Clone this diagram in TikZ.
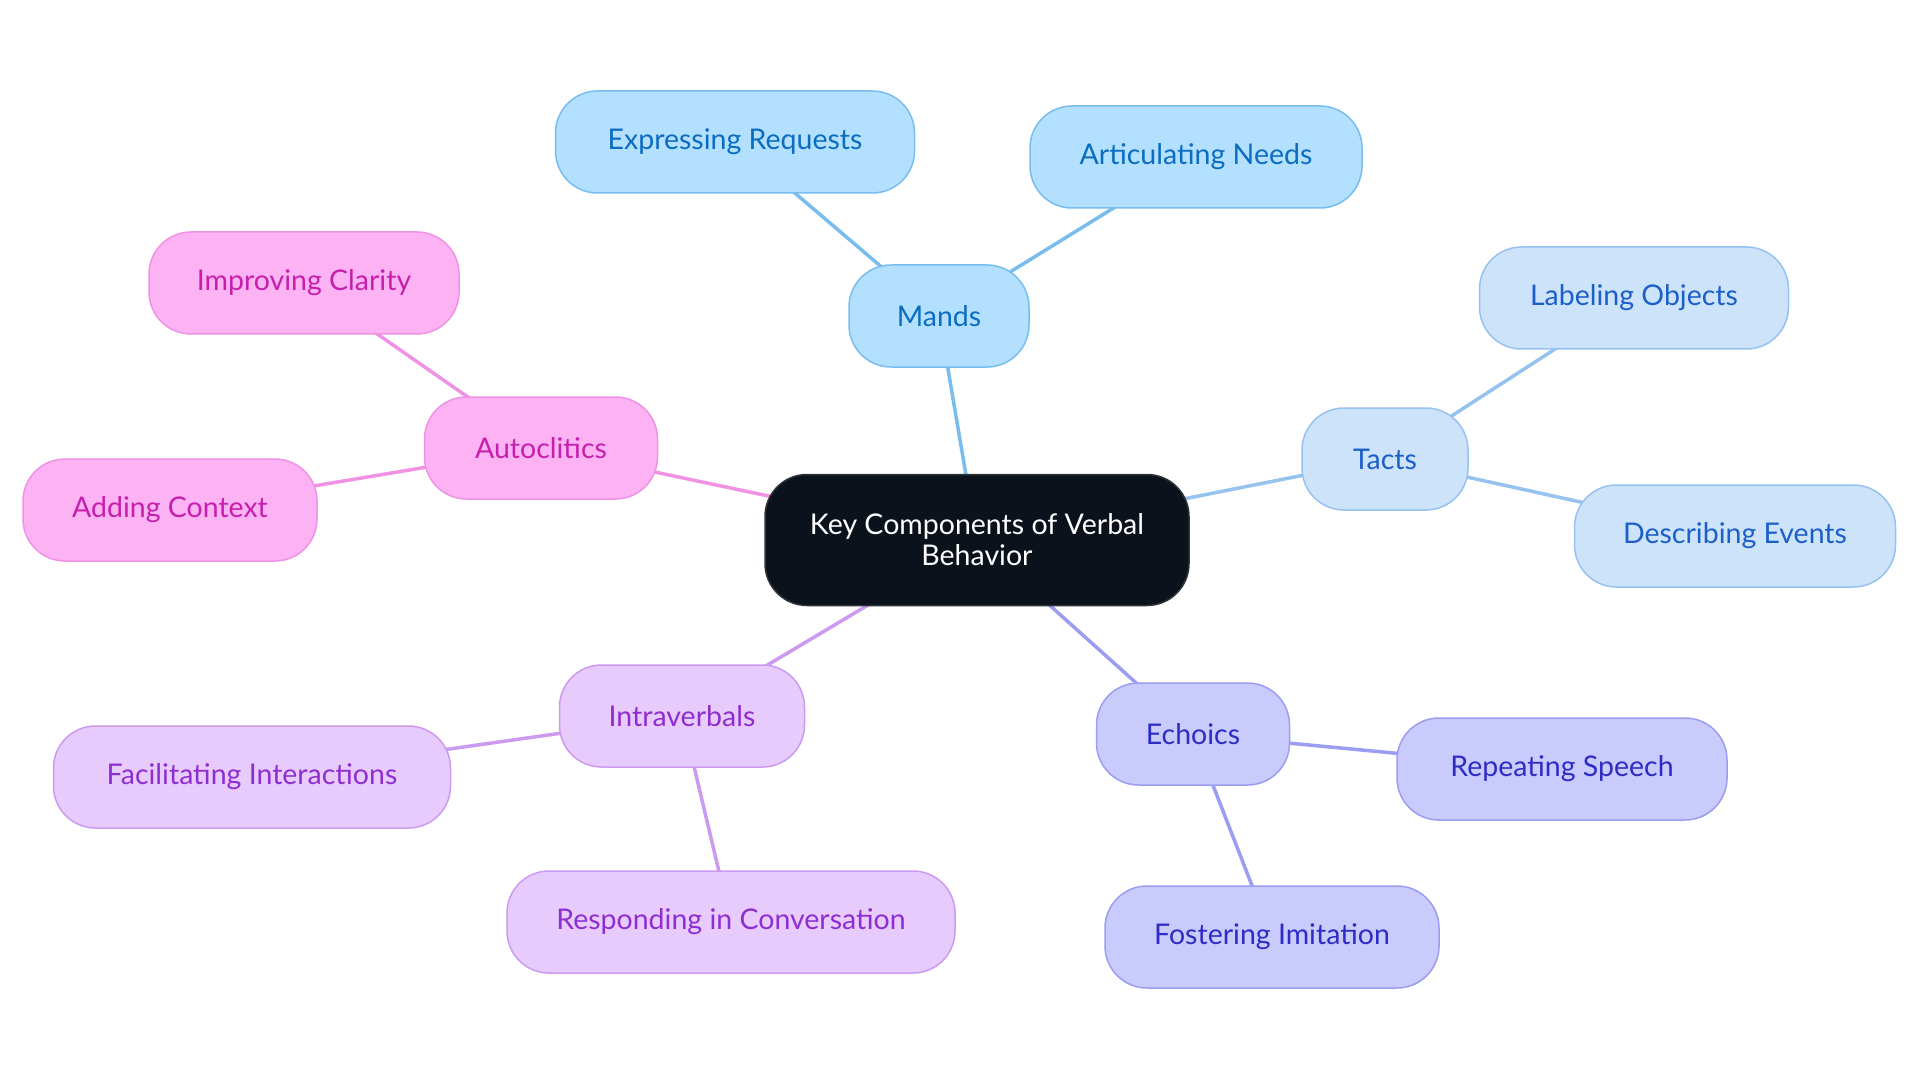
\documentclass[tikz,border=0pt]{standalone}
\usepackage{fontspec}
\setmainfont{Lato}
\usepackage{tikz}
\usetikzlibrary{backgrounds}

\definecolor{rootfill}{HTML}{0C121B}
\definecolor{rootdraw}{HTML}{2F343B}
\definecolor{mandfill}{HTML}{B3E0FF}
\definecolor{manddraw}{HTML}{78BDEE}
\definecolor{mandtext}{HTML}{0B6CC0}
\definecolor{tactfill}{HTML}{CCE3FA}
\definecolor{tactdraw}{HTML}{96C2F0}
\definecolor{tacttext}{HTML}{1D5FC9}
\definecolor{echofill}{HTML}{C9CBFC}
\definecolor{echodraw}{HTML}{9A9DF1}
\definecolor{echotext}{HTML}{2D2DC6}
\definecolor{intrfill}{HTML}{E8CBFD}
\definecolor{intrdraw}{HTML}{CC9AF0}
\definecolor{intrtext}{HTML}{8F2ED0}
\definecolor{autofill}{HTML}{FDB3F3}
\definecolor{autodraw}{HTML}{F092E3}
\definecolor{autotext}{HTML}{C61FAE}

\begin{document}
\begin{tikzpicture}[x=1pt,y=-1pt]
  \tikzstyle{bubble}=[rectangle,rounded corners=42pt,line width=1.5pt,minimum height=102pt,
                      inner sep=0pt,font=\fontsize{28.5}{31}\selectfont,align=center]
  \tikzstyle{rootbox}=[bubble,fill=rootfill,draw=rootdraw,text=white,minimum height=131pt]
  \tikzstyle{mand}=[bubble,fill=mandfill,draw=manddraw,text=mandtext]
  \tikzstyle{tact}=[bubble,fill=tactfill,draw=tactdraw,text=tacttext]
  \tikzstyle{echo}=[bubble,fill=echofill,draw=echodraw,text=echotext]
  \tikzstyle{intr}=[bubble,fill=intrfill,draw=intrdraw,text=intrtext]
  \tikzstyle{auto}=[bubble,fill=autofill,draw=autodraw,text=autotext]
  \tikzstyle{link}=[line width=3.5pt]

  \useasboundingbox (0,0) rectangle (1920,1083);

  \node[rootbox, minimum width=424pt] (root) at (977,540) {Key Components of Verbal\\Behavior};

  \node[mand, minimum width=180pt] (mands)    at (939,316)  {Mands};
  \node[mand, minimum width=359pt] (requests) at (735,142)  {Expressing Requests};
  \node[mand, minimum width=332pt] (needs)    at (1196,157) {Articulating Needs};

  \node[tact, minimum width=166pt] (tacts)    at (1385,459) {Tacts};
  \node[tact, minimum width=309pt] (objects)  at (1634,298) {Labeling Objects};
  \node[tact, minimum width=321pt] (events)   at (1735,536) {Describing Events};

  \node[echo, minimum width=193pt] (echoics)  at (1193,734) {Echoics};
  \node[echo, minimum width=330pt] (speech)   at (1562,769) {Repeating Speech};
  \node[echo, minimum width=334pt] (imitate)  at (1272,937) {Fostering Imitation};

  \node[intr, minimum width=245pt] (intra)    at (682,716)  {Intraverbals};
  \node[intr, minimum width=397pt] (interact) at (252,777)  {Facilitating Interactions};
  \node[intr, minimum width=448pt] (respond)  at (731,922)  {Responding in Conversation};

  \node[auto, minimum width=233pt] (autocl)   at (541,448)  {Autoclitics};
  \node[auto, minimum width=310pt] (clarity)  at (304,283)  {Improving Clarity};
  \node[auto, minimum width=294pt] (context)  at (170,510)  {Adding Context};

  \begin{scope}[on background layer]
  \path (root.center)    edge[link,manddraw]  (mands.center)
                         edge[link,tactdraw]  (tacts.center)
                         edge[link,echodraw]  (echoics.center)
                         edge[link,intrdraw]  (intra.center)
                         edge[link,autodraw]  (autocl.center)
        (mands.center)   edge[link,manddraw]  (requests.center)
                         edge[link,manddraw]  (needs.center)
        (tacts.center)   edge[link,tactdraw]  (objects.center)
                         edge[link,tactdraw]  (events.center)
        (echoics.center) edge[link,echodraw]  (speech.center)
                         edge[link,echodraw]  (imitate.center)
        (intra.center)   edge[link,intrdraw]  (interact.center)
                         edge[link,intrdraw]  (respond.center)
        (autocl.center)  edge[link,autodraw]  (clarity.center)
                         edge[link,autodraw]  (context.center);
  \end{scope}
\end{tikzpicture}
\end{document}
